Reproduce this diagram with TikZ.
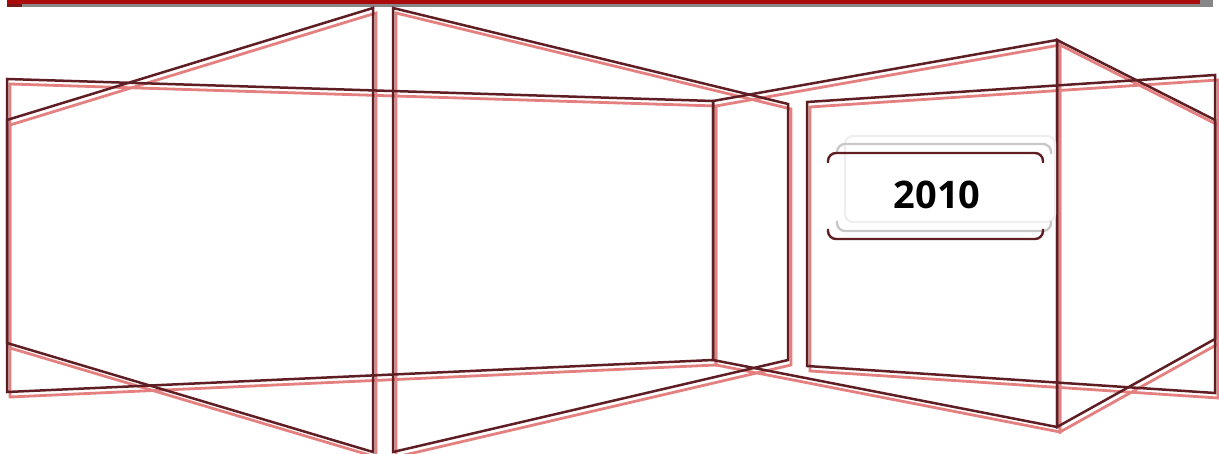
\documentclass[tikz,border=0pt]{standalone}
\usepackage{fontspec}
\newfontfamily\yearfont{Open Sans}
\definecolor{darkline}{RGB}{95,30,35}
\definecolor{pinkline}{RGB}{228,128,128}
\definecolor{barred}{RGB}{170,10,10}
\definecolor{bardark}{RGB}{120,25,25}
\definecolor{bargrey}{RGB}{135,135,135}
\definecolor{midgrey}{RGB}{200,200,200}
\definecolor{lightgrey}{RGB}{238,238,238}
\tikzset{
  panel/.style={draw=darkline, line width=2.5pt, line join=miter},
  panelshadow/.style={draw=pinkline, line width=2.8pt, line join=miter},
  bracket/.style={draw=darkline, line width=2.4pt, rounded corners=8pt},
  bracketgrey/.style={draw=midgrey, line width=2.4pt, rounded corners=8pt},
  bracketlight/.style={draw=lightgrey, line width=2.2pt, rounded corners=8pt},
  yearlabel/.style={font=\yearfont\bfseries\fontsize{38}{40}\selectfont, text=black, inner sep=0pt}
}
\begin{document}
\begin{tikzpicture}[x=1pt,y=-1pt]
\useasboundingbox (0,0) rectangle (1219,454);
% top bar
\fill[bargrey] (22,-2) rectangle (1213,7);
\fill[barred] (7,-2) rectangle (1200,4.5);
\fill[bardark] (7,4) rectangle (22,7);
% shadows
\begin{scope}[shift={(3,5)}]
\draw[panelshadow] (7,79) -- (713,101) -- (713,360) -- (7,392) -- cycle;
\draw[panelshadow] (7,120) -- (373,8) -- (373,452) -- (7,343) -- cycle;
\draw[panelshadow] (393,8) -- (788,104) -- (788,360) -- (393,452) -- cycle;
\draw[panelshadow] (807,102) -- (1215,75) -- (1215,393) -- (807,366) -- cycle;
\draw[panelshadow] (713,101) -- (1057,40) -- (1057,427) -- (713,360) -- cycle;
\draw[panelshadow] (1057,40) -- (1215,120) -- (1215,339) -- (1057,427) -- cycle;
\end{scope}
% panels
\draw[panel] (7,79) -- (713,101) -- (713,360) -- (7,392) -- cycle;
\draw[panel] (7,120) -- (373,8) -- (373,452) -- (7,343) -- cycle;
\draw[panel] (393,8) -- (788,104) -- (788,360) -- (393,452) -- cycle;
\draw[panel] (807,102) -- (1215,75) -- (1215,393) -- (807,366) -- cycle;
\draw[panel] (713,101) -- (1057,40) -- (1057,427) -- (713,360) -- cycle;
\draw[panel] (1057,40) -- (1215,120) -- (1215,339) -- (1057,427) -- cycle;
% year box
\draw[bracketlight] (845,136) rectangle (1055,222);
\draw[bracketgrey] (837,154) -- (837,144) -- (1051,144) -- (1051,154);
\draw[bracketgrey] (837,221) -- (837,231) -- (1051,231) -- (1051,221);
\draw[bracket] (828,163) -- (828,153) -- (1043,153) -- (1043,163);
\draw[bracket] (828,229) -- (828,239) -- (1043,239) -- (1043,229);
\node[yearlabel] (year) at (937,195) {2010};
\end{tikzpicture}
\end{document}
